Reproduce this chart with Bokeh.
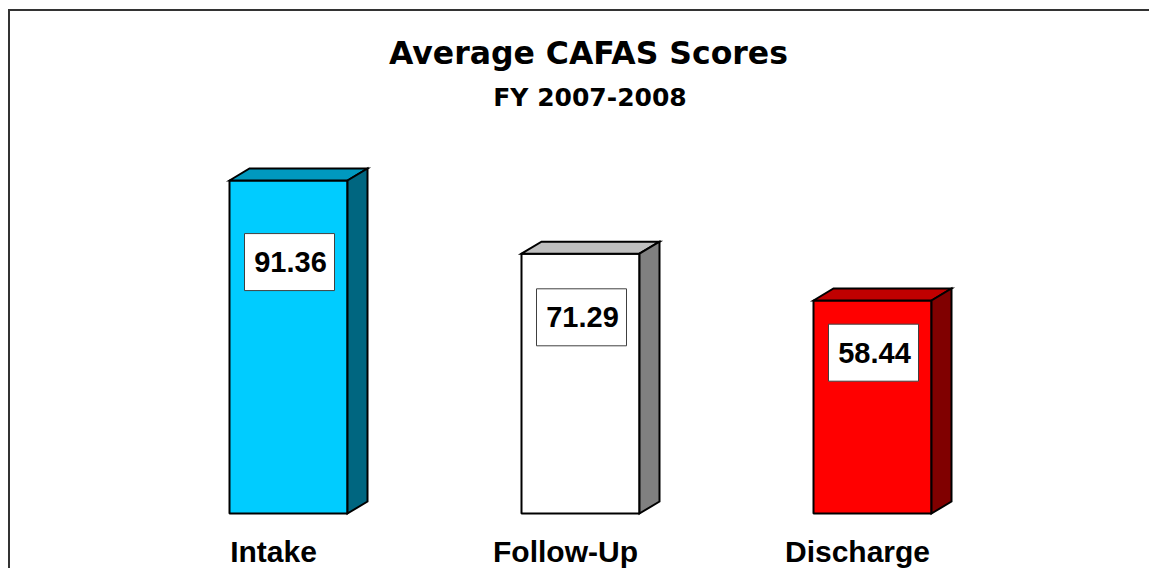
from bokeh.plotting import figure
from bokeh.models import Range1d
from bokeh.core.properties import value
from bokeh.embed import file_html
from bokeh.resources import INLINE

# ---- data ----
categories = ["Intake", "Follow-Up", "Discharge"]
scores = [91.36, 71.29, 58.44]
score_labels = ["91.36", "71.29", "58.44"]
front_colors = ["#00CCFF", "#FFFFFF", "#FF0000"]
top_colors = ["#0099BF", "#BFBFBF", "#C00000"]
side_colors = ["#006680", "#808080", "#800000"]
title_text = "Average CAFAS Scores"
subtitle_text = "FY 2007-2008"

# ---- layout (pixels, in picture coordinates) ----
W, H = 1149, 568
X_PER = 292.0          # px per category
X0 = 288.0             # x of first bar's front centre
Y_SCALE = 3.645        # px per score unit
Y0 = 513.0             # y of zero

x_start = -X0 / X_PER
x_end = x_start + W / X_PER
y_start = -(H - Y0) / Y_SCALE
y_end = y_start + H / Y_SCALE


def sx(px):
    return x_start + px / X_PER


def sy(py):
    return y_start + (H - py) / Y_SCALE


bar_w = 118 / X_PER
dx = 20 / X_PER
dy = 12 / Y_SCALE

p = figure(width=W, height=H, output_backend="svg", toolbar_location=None,
           x_range=Range1d(x_start, x_end), y_range=Range1d(y_start, y_end),
           x_axis_type=None, y_axis_type=None, min_border=0)
p.outline_line_color = None
p.background_fill_color = "white"
p.border_fill_color = "white"

xs = list(range(len(categories)))

# front faces
p.quad(left=[x - bar_w / 2 for x in xs], right=[x + bar_w / 2 for x in xs],
       bottom=[0] * len(xs), top=scores,
       fill_color=front_colors, line_color="black", line_width=2)

# top and side faces
top_xs, top_ys, side_xs, side_ys = [], [], [], []
for x, v in zip(xs, scores):
    L, R = x - bar_w / 2, x + bar_w / 2
    top_xs.append([L, L + dx, R + dx, R])
    top_ys.append([v, v + dy, v + dy, v])
    side_xs.append([R, R + dx, R + dx, R])
    side_ys.append([0, dy, v + dy, v])
p.patches(top_xs, top_ys, fill_color=top_colors, line_color="black",
          line_width=2, line_join="miter")
p.patches(side_xs, side_ys, fill_color=side_colors, line_color="black",
          line_width=2, line_join="miter")

# value label boxes
label_y = [v * 0.755 for v in scores]
p.rect(x=[x + 1 / X_PER for x in xs], y=label_y, width=90, height=57,
       width_units="screen", height_units="screen",
       fill_color="white", line_color="#404040", line_width=1)
p.text(x=[x + 2 / X_PER for x in xs], y=label_y, text=score_labels,
       text_font=value("Liberation Sans"), text_font_style="bold",
       text_font_size="29px", text_align="center", text_baseline="middle",
       text_color="black")

# category labels
p.text(x=[x - 15 / X_PER for x in xs], y=[sy(551)] * len(xs), text=categories,
       text_font=value("Liberation Sans"), text_font_style="bold",
       text_font_size="30px", text_align="center", text_baseline="middle",
       text_color="black")

# title
p.text(x=[sx(588)], y=[sy(52.8)], text=[title_text],
       text_font=value("DejaVu Sans"), text_font_style="bold",
       text_font_size="31.5px", text_align="center", text_baseline="middle",
       text_color="black")
p.text(x=[sx(589.5)], y=[sy(96.5)], text=[subtitle_text],
       text_font=value("DejaVu Sans"), text_font_style="bold",
       text_font_size="25px", text_align="center", text_baseline="middle",
       text_color="black")

# chart border (top and left edges of the chart area)
p.line(x=[x_end, sx(8.5), sx(8.5)], y=[sy(9.5), sy(9.5), y_start],
       line_color="#333333", line_width=2, line_join="miter")

open("out.html", "w").write(file_html(p, INLINE))
